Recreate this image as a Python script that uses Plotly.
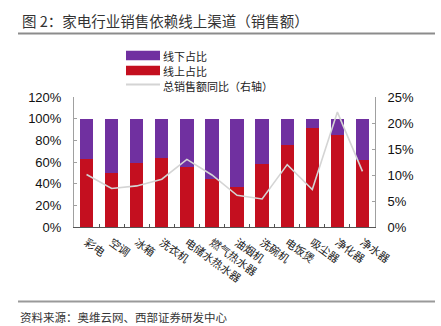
import plotly.graph_objects as go

categories = ["彩电", "空调", "冰箱", "洗衣机", "电储水热水器", "燃气热水器",
              "油烟机", "洗碗机", "电饭煲", "吸尘器", "净化器", "净水器"]
online_share = [62.5, 49.5, 59.0, 63.5, 55.5, 44.0, 36.5, 58.0, 76.0, 91.0, 85.0, 61.5]
offline_share = [37.5, 50.5, 41.0, 36.5, 44.5, 56.0, 63.5, 42.0, 24.0, 9.0, 15.0, 38.5]
sales_yoy = [10.1, 7.4, 7.9, 9.2, 13.0, 10.0, 6.1, 5.4, 12.0, 7.2, 22.1, 10.7]

left_ticks = [0, 20, 40, 60, 80, 100, 120]
right_ticks = [0, 5, 10, 15, 20, 25]

RED = "#C40F1F"
PURPLE = "#7030A0"
GRAY_LINE = "#D4D4D4"
CJK = "Noto Sans CJK SC"
LAT = "Liberation Sans, Arial"

W, H = 441, 326
L, R, T, B = 74, 441 - 375, 97, 326 - 227
pw, ph = W - L - R, H - T - B


def px(x):
    return (x - L) / pw


def py(y):
    return (H - B - y) / ph


fig = go.Figure()
fig.add_bar(x=categories, y=[v / 100 for v in online_share], name="线上占比",
            marker=dict(color=RED, line=dict(width=0)), showlegend=False)
fig.add_bar(x=categories, y=[v / 100 for v in offline_share], name="线下占比",
            marker=dict(color=PURPLE, line=dict(width=0)), showlegend=False)
fig.add_scatter(x=categories, y=[v / 100 for v in sales_yoy], yaxis="y2",
                mode="lines", name="总销售额同比（右轴）",
                line=dict(color=GRAY_LINE, width=1.6), showlegend=False)

fig.update_layout(
    width=W, height=H,
    margin=dict(l=L, r=R, t=T, b=B, autoexpand=False),
    paper_bgcolor="white", plot_bgcolor="white",
    barmode="stack", bargap=0.47,
    showlegend=False,
    xaxis=dict(
        type="category", range=[-0.5, len(categories) - 0.5],
        showline=True, linecolor="#555555", linewidth=1,
        ticks="inside", ticklen=3, tickcolor="#555555", tickson="boundaries",
        tickangle=36, tickfont=dict(family=CJK, size=11, color="#222222"),
        ticklabelstandoff=4,
        showgrid=False, zeroline=False, automargin=False,
    ),
    yaxis=dict(
        range=[0, 1.2], tickvals=[v / 100 for v in left_ticks],
        ticktext=[f"{v}%" for v in left_ticks],
        showline=True, linecolor="#A0A0A0", linewidth=1,
        ticks="inside", ticklen=3, tickcolor="#A0A0A0",
        tickfont=dict(family=LAT, size=13, color="#111111"),
        ticklabelstandoff=9,
        showgrid=False, zeroline=False, automargin=False,
    ),
    yaxis2=dict(
        range=[0, 0.25], tickvals=[v / 100 for v in right_ticks],
        ticktext=[f"{v}%" for v in right_ticks],
        overlaying="y", side="right",
        showline=True, linecolor="#A0A0A0", linewidth=1,
        ticks="inside", ticklen=3, tickcolor="#A0A0A0",
        tickfont=dict(family=LAT, size=13, color="#111111"),
        ticklabelstandoff=9,
        showgrid=False, zeroline=False, automargin=False,
    ),
)

shapes = []
annotations = []

# Title and rules
annotations.append(dict(text="图 2：家电行业销售依赖线上渠道（销售额）",
                        x=px(20), y=py(20), xref="paper", yref="paper",
                        xanchor="left", yanchor="middle", showarrow=False,
                        font=dict(family=CJK, size=14.5, color="#333333")))
shapes.append(dict(type="line", xref="paper", yref="paper",
                   x0=px(18), x1=px(435), y0=py(33.5), y1=py(33.5),
                   line=dict(color="#8C8C8C", width=1.8)))
shapes.append(dict(type="line", xref="paper", yref="paper",
                   x0=px(18), x1=px(435), y0=py(301.5), y1=py(301.5),
                   line=dict(color="#9A9A9A", width=1.8)))
annotations.append(dict(text="资料来源：奥维云网、西部证券研发中心",
                        x=px(18), y=py(317), xref="paper", yref="paper",
                        xanchor="left", yanchor="middle", showarrow=False,
                        font=dict(family=CJK, size=11.5, color="#333333")))

# Custom legend
legend_items = [("线下占比", PURPLE, "box", 55.5),
                ("线上占比", RED, "box", 70.5),
                ("总销售额同比（右轴）", GRAY_LINE, "line", 86.0)]
for label, color, kind, yc in legend_items:
    if kind == "box":
        shapes.append(dict(type="rect", xref="paper", yref="paper",
                           x0=px(126), x1=px(160), y0=py(yc - 4.8), y1=py(yc + 4.8),
                           fillcolor=color, line=dict(width=0)))
    else:
        shapes.append(dict(type="line", xref="paper", yref="paper",
                           x0=px(126), x1=px(160), y0=py(yc - 1.5), y1=py(yc - 1.5),
                           line=dict(color=color, width=2)))
    annotations.append(dict(text=label, x=px(162), y=py(yc), xref="paper", yref="paper",
                            xanchor="left", yanchor="middle", showarrow=False,
                            borderpad=0,
                            font=dict(family=CJK, size=11, color="#222222")))

fig.update_layout(shapes=shapes, annotations=annotations)
fig.write_html("out.html")
